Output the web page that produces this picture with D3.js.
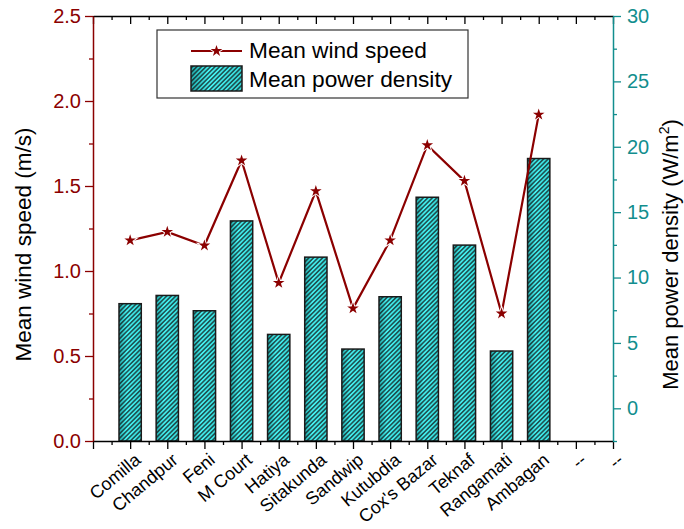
<!DOCTYPE html>
<html>
<head>
<meta charset="utf-8">
<script src="https://cdn.jsdelivr.net/npm/d3@7"></script>
<style>
  body { margin: 0; background: #fff; }
  text { font-family: Arial, "Liberation Sans", sans-serif; }
</style>
</head>
<body>
<svg id="chart" width="684" height="529"></svg>
<script>
// Station names along the x axis (two trailing placeholders)
const stations = ["Comilla", "Chandpur", "Feni", "M Court", "Hatiya", "Sitakunda",
  "Sandwip", "Kutubdia", "Cox's Bazar", "Teknaf", "Rangamati", "Ambagan", "--", "--"];
// Mean wind speed, m/s (left axis)
const windSpeed = [1.18, 1.23, 1.15, 1.65, 0.93, 1.47, 0.78, 1.18, 1.74, 1.53, 0.75, 1.92];
// Mean power density, W/m² (right axis)
const powerDensity = [8.0, 8.63, 7.46, 14.33, 5.65, 11.56, 4.53, 8.53, 16.14, 12.48, 4.38, 19.1];
// Tick values
const windTicks = [0, 0.5, 1.0, 1.5, 2.0, 2.5];
const windMinor = [0.25, 0.75, 1.25, 1.75, 2.25];
const powerTicks = [0, 5, 10, 15, 20, 25, 30];
const powerMinor = [-2.5, 2.5, 7.5, 12.5, 17.5, 22.5, 27.5];

const RED = "#8b0000";
const TEAL = "#128e8e";

const svg = d3.select("#chart");
const L = 93, R = 613, T = 16, B = 441;

const x = d3.scaleLinear().domain([0, stations.length]).range([L, R]);
const yL = d3.scaleLinear().domain([0, 2.5]).range([B, T]);
const yR = d3.scaleLinear().domain([-2.5, 30]).range([B, T]);

// ---- bar fill: cyan gradient + diagonal hatch ----
const defs = svg.append("defs");
const grad = defs.append("linearGradient").attr("id", "barFill")
  .attr("x1", "0").attr("x2", "1").attr("y1", "0").attr("y2", "0");
grad.append("stop").attr("offset", "0").attr("stop-color", "#1fa8a8");
grad.append("stop").attr("offset", "0.35").attr("stop-color", "#45f4f4");
grad.append("stop").attr("offset", "1").attr("stop-color", "#35dada");

const hatch = defs.append("pattern").attr("id", "hatch")
  .attr("patternUnits", "userSpaceOnUse")
  .attr("width", 3.2).attr("height", 3.2)
  .attr("patternTransform", "rotate(45)");
hatch.append("line").attr("x1", 0.8).attr("y1", 0).attr("x2", 0.8).attr("y2", 3.2)
  .attr("stroke", "#111").attr("stroke-width", 1.1);

const idx = d3.range(powerDensity.length);
const barW = (x(1) - x(0)) * 0.6;

const bars = svg.append("g").attr("class", "bars");
bars.selectAll("rect.fill").data(idx).join("rect").attr("class", "fill")
  .attr("x", i => x(i + 1) - barW / 2)
  .attr("y", i => yR(powerDensity[i]))
  .attr("width", barW)
  .attr("height", i => B - yR(powerDensity[i]))
  .attr("fill", "url(#barFill)");
bars.selectAll("rect.hatch").data(idx).join("rect").attr("class", "hatch")
  .attr("x", i => x(i + 1) - barW / 2)
  .attr("y", i => yR(powerDensity[i]))
  .attr("width", barW)
  .attr("height", i => B - yR(powerDensity[i]))
  .attr("fill", "url(#hatch)")
  .attr("stroke", "#1a1a1a").attr("stroke-width", 1.5);

// ---- wind speed line with star markers ----
const line = d3.line().x((d, i) => x(i + 1)).y(d => yL(d));
svg.append("path").datum(windSpeed)
  .attr("d", line).attr("fill", "none")
  .attr("stroke", RED).attr("stroke-width", 2.2);

const star = d3.symbol().type(d3.symbolStar);
const stars = svg.append("g");
stars.selectAll("path.halo").data(windSpeed).join("path").attr("class", "halo")
  .attr("d", star.size(95)())
  .attr("transform", (d, i) => `translate(${x(i + 1)},${yL(d)})`)
  .attr("fill", "#fff");
stars.selectAll("path.mark").data(windSpeed).join("path").attr("class", "mark")
  .attr("d", star.size(42)())
  .attr("transform", (d, i) => `translate(${x(i + 1)},${yL(d)})`)
  .attr("fill", RED);

// ---- axes ----
// bottom axis with station labels
const xMajor = d3.range(0, stations.length + 1);
const xMinor = d3.range(0, stations.length).map(d => d + 0.5);

const gx = svg.append("g").attr("transform", `translate(0,${B})`)
  .call(d3.axisBottom(x).tickValues(xMajor).tickSize(8).tickSizeOuter(0)
    .tickFormat(d => (d >= 1 ? stations[d - 1] : "")));
gx.append("g").call(d3.axisBottom(x).tickValues(xMinor).tickSize(4).tickFormat(""))
  .select(".domain").remove();
gx.selectAll(".tick line").attr("stroke", "#000").attr("stroke-width", 1.3);
gx.select(".domain").attr("stroke", "#000").attr("stroke-width", 1.5);
gx.selectAll(".tick text")
  .attr("font-size", 18).attr("fill", "#000")
  .attr("text-anchor", "end")
  .attr("y", 0).attr("dy", "0.71em")
  .attr("transform", "translate(3,11) rotate(-40)");

// top frame axis, ticks pointing inward
const gt = svg.append("g").attr("transform", `translate(0,${T})`)
  .call(d3.axisBottom(x).tickValues(xMajor).tickSize(8).tickSizeOuter(0).tickFormat(""));
gt.append("g").call(d3.axisBottom(x).tickValues(xMinor).tickSize(4).tickFormat(""))
  .select(".domain").remove();
gt.selectAll(".tick line").attr("stroke", "#000").attr("stroke-width", 1.3);
gt.select(".domain").attr("stroke", "#000").attr("stroke-width", 1.5);

// left axis: wind speed
const gl = svg.append("g").attr("transform", `translate(${L},0)`)
  .call(d3.axisLeft(yL).tickValues(windTicks).tickSize(8).tickSizeOuter(0)
    .tickPadding(4).tickFormat(d3.format(".1f")));
gl.append("g").call(d3.axisLeft(yL).tickValues(windMinor).tickSize(4).tickFormat(""))
  .select(".domain").remove();
gl.selectAll("path.domain").attr("stroke", RED).attr("stroke-width", 1.5);
gl.selectAll(".tick line").attr("stroke", RED).attr("stroke-width", 1.3);
gl.selectAll(".tick text").attr("font-size", 20).attr("fill", RED);

// right axis: power density
const gr = svg.append("g").attr("transform", `translate(${R},0)`)
  .call(d3.axisRight(yR).tickValues(powerTicks).tickSize(8).tickSizeOuter(0)
    .tickPadding(6).tickFormat(d3.format("d")));
gr.append("g").call(d3.axisRight(yR).tickValues(powerMinor).tickSize(4).tickFormat(""))
  .select(".domain").remove();
gr.selectAll("path.domain").attr("stroke", TEAL).attr("stroke-width", 1.5);
gr.selectAll(".tick line").attr("stroke", TEAL).attr("stroke-width", 1.3);
gr.selectAll(".tick text").attr("font-size", 20).attr("fill", TEAL);

// ---- axis titles ----
svg.append("text")
  .attr("transform", `translate(31,${(T + B) / 2 + 16}) rotate(-90)`)
  .attr("text-anchor", "middle").attr("font-size", 22.5).attr("fill", "#000")
  .text("Mean wind speed (m/s)");

const rt = svg.append("text")
  .attr("transform", `translate(678,${(T + B) / 2 + 26}) rotate(-90)`)
  .attr("text-anchor", "middle").attr("font-size", 22).attr("fill", "#000");
rt.append("tspan").text("Mean power density (W/m");
rt.append("tspan").attr("dy", -9).attr("font-size", 14).text("2");
rt.append("tspan").attr("dy", 9).text(")");

// ---- legend ----
const lg = svg.append("g");
lg.append("rect").attr("x", 157).attr("y", 30).attr("width", 311).attr("height", 68)
  .attr("fill", "#fff").attr("stroke", "#333").attr("stroke-width", 1.2);
lg.append("line").attr("x1", 191).attr("x2", 242).attr("y1", 51).attr("y2", 51)
  .attr("stroke", RED).attr("stroke-width", 2.2);
lg.append("path").attr("d", star.size(95)()).attr("transform", "translate(216.5,51)").attr("fill", "#fff");
lg.append("path").attr("d", star.size(42)()).attr("transform", "translate(216.5,51)").attr("fill", RED);
lg.append("text").attr("x", 249).attr("y", 58).attr("font-size", 22.7).text("Mean wind speed");
lg.append("rect").attr("x", 191).attr("y", 66).attr("width", 51).attr("height", 25)
  .attr("fill", "url(#barFill)");
lg.append("rect").attr("x", 191).attr("y", 66).attr("width", 51).attr("height", 25)
  .attr("fill", "url(#hatch)").attr("stroke", "#1a1a1a").attr("stroke-width", 1.5);
lg.append("text").attr("x", 249).attr("y", 87).attr("font-size", 22.7).text("Mean power density");
</script>
</body>
</html>
